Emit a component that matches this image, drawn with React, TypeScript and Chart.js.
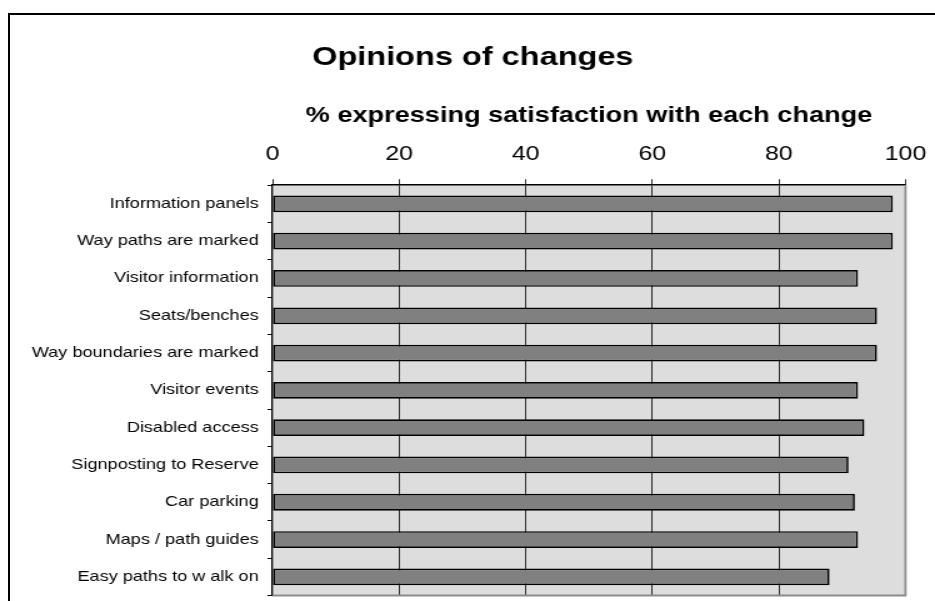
import React, { useEffect, useRef } from "react";
import { Chart, registerables } from "chart.js";

Chart.register(...registerables);

const categories: string[] = [
  "Information panels",
  "Way paths are marked",
  "Visitor information",
  "Seats/benches",
  "Way boundaries are marked",
  "Visitor events",
  "Disabled access",
  "Signposting to Reserve",
  "Car parking",
  "Maps / path guides",
  "Easy paths to w alk on",
];

const satisfaction: number[] = [98, 98, 92.5, 95.5, 95.5, 92.5, 93.5, 91, 92, 92.5, 88];

const chartTitle = "Opinions of changes";
const axisTitle = "% expressing satisfaction with each change";
const axisMin = 0;
const axisMax = 100;
const axisStep = 20;

const FONT = "'Liberation Sans', Arial, Helvetica, sans-serif";
const STRETCH = 1.25;
const W = 935;
const H = 601;

const plotDecor = {
  id: "plotDecor",
  beforeDraw(chart: any) {
    const { ctx, chartArea: a } = chart;
    ctx.save();
    ctx.fillStyle = "#dddddd";
    ctx.fillRect(a.left, a.top, a.right - a.left, a.bottom - a.top);
    ctx.restore();
  },
  beforeDatasetsDraw(chart: any) {
    const { ctx, chartArea: a } = chart;
    ctx.save();
    ctx.strokeStyle = "#8c8c8c";
    ctx.lineWidth = 1.8;
    ctx.beginPath();
    ctx.moveTo(a.right, a.top);
    ctx.lineTo(a.right, a.bottom);
    ctx.lineTo(a.left, a.bottom);
    ctx.stroke();
    ctx.restore();
  },
};

export default function App() {
  const ref = useRef<HTMLCanvasElement>(null);

  useEffect(() => {
    if (!ref.current) return;
    const chart = new Chart(ref.current, {
      type: "bar",
      data: {
        labels: categories,
        datasets: [
          {
            data: satisfaction,
            backgroundColor: "#808080",
            borderColor: "#000000",
            borderWidth: 1.7,
            borderSkipped: false,
            barPercentage: 0.45,
            categoryPercentage: 1,
          },
        ],
      },
      options: {
        indexAxis: "y",
        responsive: false,
        animation: false,
        devicePixelRatio: 1,
        layout: { padding: { left: 8.5, right: 0, top: 20, bottom: 5.5 } },
        plugins: {
          legend: { display: false },
          tooltip: { enabled: false },
          title: {
            display: true,
            text: chartTitle,
            color: "#000",
            font: { family: FONT, size: 26, weight: "bold", lineHeight: 1.2 },
            padding: { top: 22.4, bottom: 25.2 },
          },
        },
        scales: {
          x: {
            type: "linear",
            position: "top",
            min: axisMin,
            max: axisMax,
            afterFit: (scale: any) => {
              scale.paddingLeft = 0;
              scale.paddingRight = 0;
            },
            ticks: {
              stepSize: axisStep,
              color: "#000",
              padding: 13.2,
              font: { family: FONT, size: 20, lineHeight: 1.2 },
            },
            grid: {
              color: (c: any) =>
                c.tick && (c.tick.value === axisMin || c.tick.value === axisMax)
                  ? "rgba(0,0,0,0)"
                  : "#000",
              tickColor: "#000",
              lineWidth: 0.8,
              tickLength: 6,
            },
            border: { color: "#000", width: 1.5 },
            title: {
              display: true,
              text: axisTitle,
              color: "#000",
              font: { family: FONT, size: 21.7, weight: "bold", lineHeight: 1.2 },
              padding: { top: 4, bottom: 0 },
            },
          },
          y: {
            type: "category",
            position: "left",
            afterFit: (scale: any) => {
              scale.width = 209.5;
              scale.paddingTop = 0;
              scale.paddingBottom = 0;
            },
            ticks: {
              color: "#000",
              padding: 7,
              font: { family: FONT, size: 14.5, lineHeight: 1.2 },
            },
            grid: {
              offset: true,
              drawOnChartArea: false,
              drawTicks: true,
              tickLength: 4,
              tickColor: "#000",
              color: "#000",
              lineWidth: 1,
            },
            border: { color: "#000", width: 1.3 },
          },
          yPad: {
            type: "linear",
            axis: "y",
            position: "right",
            display: true,
            afterFit: (scale: any) => {
              scale.width = 23.6;
              scale.paddingTop = 0;
              scale.paddingBottom = 0;
            },
            ticks: { display: false },
            grid: { display: false },
            border: { display: false },
            title: { display: false },
          },
        },
      },
      plugins: [plotDecor],
    } as any);
    return () => chart.destroy();
  }, []);

  return (
    <div
      style={{
        position: "absolute",
        left: 0,
        top: 0,
        width: W,
        height: H,
        overflow: "hidden",
        background: "#ffffff",
      }}
    >
      <div
        style={{
          position: "absolute",
          left: 8,
          top: 13,
          width: 1200,
          height: 1200,
          border: "2px solid #000",
          boxSizing: "border-box",
        }}
      />
      <canvas
        ref={ref}
        width={Math.round(W / STRETCH)}
        height={H}
        style={{ position: "absolute", left: 0, top: 0, width: W + "px", height: H + "px" }}
      />
    </div>
  );
}
